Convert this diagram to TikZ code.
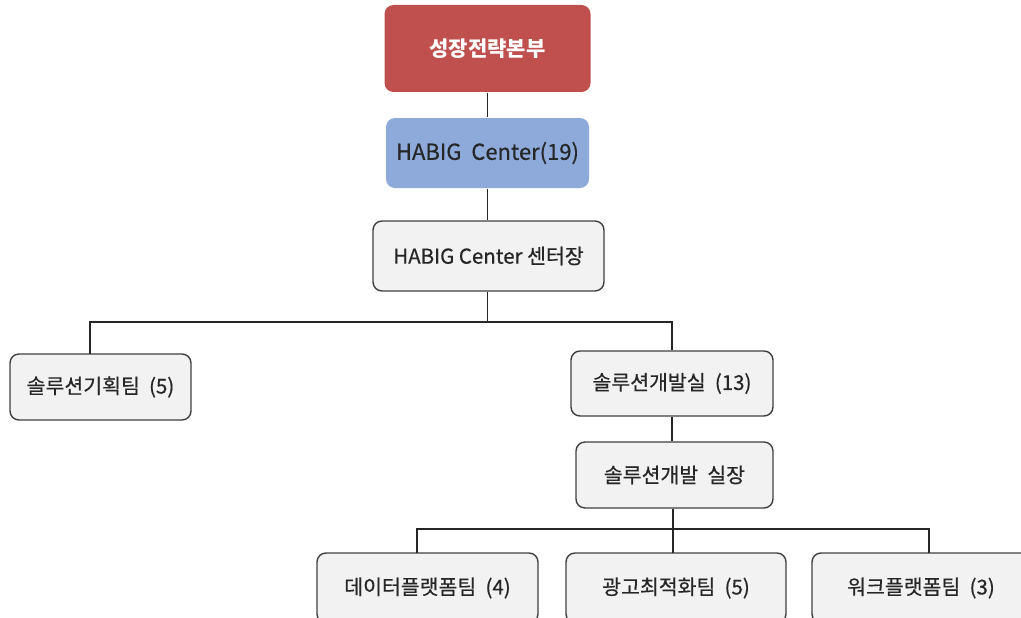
\documentclass[tikz,border=0pt]{standalone}
\usepackage{fontspec}
\setmainfont{Noto Sans CJK KR}
\newfontfamily\krmed[FakeBold=0.5]{Noto Sans CJK KR}
\begin{document}
\begin{tikzpicture}[x=1pt,y=-1pt,
  box/.style={draw=black!75,line width=1.4pt,rounded corners=9pt,fill=black!5,inner sep=0pt,text=black!85,font=\krmed\fontsize{20.5}{24}\selectfont},
  conn/.style={line width=1.3pt,draw=black!85}]
\useasboundingbox (0,0) rectangle (1021,618);
\node[box,draw=none,fill={rgb,255:red,192;green,80;blue,77},text=white,minimum width=206pt,minimum height=87pt,font=\fontsize{21}{24}\selectfont\bfseries] (hq) at (487.5,48.5) {성장전략본부};
\node[box,draw=none,fill={rgb,255:red,142;green,170;blue,219},minimum width=203pt,minimum height=70pt,font=\krmed\fontsize{22}{24}\selectfont] (hc) at (487.5,153) {HABIG\ \ Center(19)};
\node[box,minimum width=231pt,minimum height=70pt] (ch) at (488.5,256) {HABIG Center 센터장};
\node[box,minimum width=181pt,minimum height=66pt] (sp) at (100.5,387) {솔루션기획팀\ \ (5)};
\node[box,minimum width=202pt,minimum height=65pt] (sd) at (672,383.5) {솔루션개발실\ \ (13)};
\node[box,minimum width=197pt,minimum height=66pt] (dh) at (674.5,475) {솔루션개발\ \ 실장};
\node[box,minimum width=221pt,minimum height=70pt] (dp) at (427.5,588) {데이터플랫폼팀\ \ (4)};
\node[box,minimum width=220pt,minimum height=70pt] (ad) at (676,588) {광고최적화팀\ \ (5)};
\node[box,minimum width=218pt,minimum height=70pt] (wp) at (921,588) {워크플랫폼팀\ \ (3)};
\coordinate (b1) at (487.5,322);
\coordinate (b2) at (673,529);
\draw[conn] (hq.south) -- (hc.north);
\draw[conn] (hc.south) -- (hc.south |- ch.north);
\draw[conn] (b1 |- ch.south) -- (b1);
\draw[conn] (b1) -| (90,354);
\draw[conn] (b1) -| (sd.north);
\draw[conn] (sd.south) -- (sd.south |- dh.north);
\draw[conn] (b2 |- dh.south) -- (b2);
\draw[conn] (b2) -| (417,553);
\draw[conn] (b2) -- (673,553);
\draw[conn] (b2) -| (929,553);
\end{tikzpicture}
\end{document}
